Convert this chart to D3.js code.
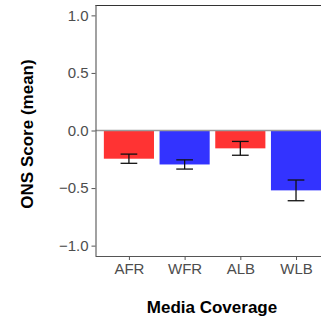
<!DOCTYPE html>
<html>
<head>
<meta charset="utf-8">
<script src="https://cdn.jsdelivr.net/npm/d3@7"></script>
<style>
  body { margin: 0; background: #fff; }
  svg { display: block; font-family: "Liberation Sans", Arial, sans-serif; }
</style>
</head>
<body>
<div id="chart"></div>
<script>
// data
const categories = ["AFR", "WFR", "ALB", "WLB"];
const means = [-0.245, -0.295, -0.155, -0.52];
const errors = [0.04, 0.04, 0.06, 0.09];
const barColors = ["#ff3333", "#3333ff", "#ff3333", "#3333ff"];
const yTicks = [-1.0, -0.5, 0.0, 0.5, 1.0];

const W = 321, H = 320;
const panelLeft = 95.5, panelTop = 5, panelBottom = 256;
const step = 55.7;
const panelRight = panelLeft + 4.2 * step;

const svg = d3.select("#chart").append("svg")
  .attr("width", W)
  .attr("height", H);

const x = d3.scalePoint()
  .domain(categories)
  .range([panelLeft, panelRight])
  .padding(0.6);

const y = d3.scaleLinear()
  .domain([-1.09, 1.09])
  .range([panelBottom, panelTop]);

const bw = x.step() * 0.9;
const ew = x.step() * 0.3;

const data = categories.map((c, i) => ({cat: c, mean: means[i], err: errors[i], color: barColors[i]}));

// bars
svg.append("g")
  .selectAll("rect")
  .data(data)
  .join("rect")
  .attr("x", d => x(d.cat) - bw / 2)
  .attr("width", bw)
  .attr("y", d => y(Math.max(0, d.mean)))
  .attr("height", d => Math.abs(y(d.mean) - y(0)))
  .attr("fill", d => d.color);

// zero line
svg.append("line")
  .attr("x1", panelLeft).attr("x2", W)
  .attr("y1", y(0)).attr("y2", y(0))
  .attr("stroke", "#9a9a9a")
  .attr("stroke-width", 1.5);

// error bars
const eb = svg.append("g")
  .attr("stroke", "#111")
  .attr("stroke-width", 1.3)
  .attr("fill", "none");

data.forEach(d => {
  const cx = x(d.cat);
  const y1 = y(d.mean + d.err), y2 = y(d.mean - d.err);
  eb.append("line").attr("x1", cx).attr("x2", cx).attr("y1", y1).attr("y2", y2);
  eb.append("line").attr("x1", cx - ew / 2).attr("x2", cx + ew / 2).attr("y1", y1).attr("y2", y1);
  eb.append("line").attr("x1", cx - ew / 2).attr("x2", cx + ew / 2).attr("y1", y2).attr("y2", y2);
});

// top border
svg.append("line")
  .attr("x1", panelLeft).attr("x2", W)
  .attr("y1", panelTop + 0.5).attr("y2", panelTop + 0.5)
  .attr("stroke", "#333")
  .attr("stroke-width", 1.2);

// y axis
const yAxis = svg.append("g")
  .attr("transform", `translate(${panelLeft},0)`)
  .call(d3.axisLeft(y).tickValues(yTicks).tickFormat(d3.format(".1f")).tickSize(4).tickSizeOuter(0));

// x axis
const xAxis = svg.append("g")
  .attr("transform", `translate(0,${panelBottom})`)
  .call(d3.axisBottom(x).tickSize(4).tickSizeOuter(0));

[yAxis, xAxis].forEach(a => {
  a.select(".domain").attr("stroke", "#555").attr("stroke-width", 1.1);
  a.selectAll(".tick line").attr("stroke", "#555");
  a.selectAll(".tick text")
    .attr("fill", "#4d4d4d")
    .style("font-size", "15px")
    .style("font-family", "'Liberation Sans', Arial, sans-serif");
});
// domain paths span the whole panel
yAxis.select(".domain").attr("d", `M0.5,${panelTop}V${panelBottom}`);
xAxis.select(".domain").attr("d", `M${panelLeft},0.5H${W}`);
yAxis.selectAll(".tick text").attr("x", -7);
xAxis.selectAll(".tick text").attr("y", 7).attr("dy", "0.71em");

// axis titles
svg.append("text")
  .attr("x", 212)
  .attr("y", 313)
  .attr("text-anchor", "middle")
  .style("font-size", "17px")
  .style("font-weight", "bold")
  .text("Media Coverage");

svg.append("text")
  .attr("transform", "translate(33,134) rotate(-90)")
  .attr("text-anchor", "middle")
  .style("font-size", "17px")
  .style("font-weight", "bold")
  .text("ONS Score (mean)");
</script>
</body>
</html>
